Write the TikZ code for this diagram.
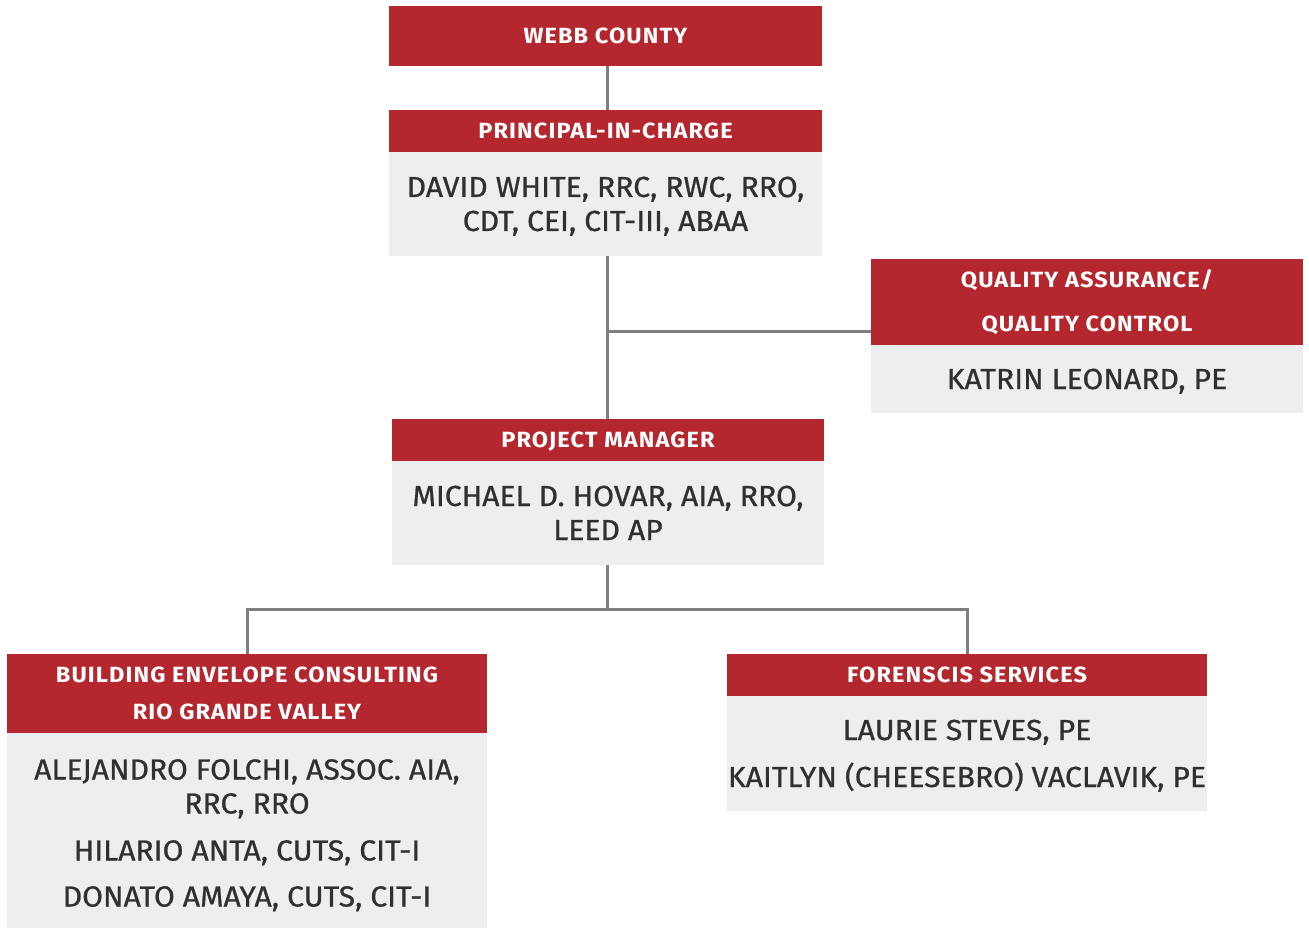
\documentclass[tikz,border=0pt]{standalone}
\usepackage{fontspec}
\setmainfont{Fira Sans}
\newfontfamily\headfont{Fira Sans}[FakeStretch=1.07,LetterSpace=5]
\newfontfamily\bodyfont{Fira Sans}[FakeStretch=1.04,FakeBold=0.8]
\definecolor{hdrred}{HTML}{B5272E}
\definecolor{bdygray}{HTML}{EDEEF0}
\definecolor{txtdark}{HTML}{2E3032}
\definecolor{lnGray}{HTML}{7F7F7F}
% struts that make the node centre fall on the middle of the capitals
\newcommand\btop{\rule{0pt}{28pt}}
\newcommand\bbot{\rule[-8pt]{0pt}{8pt}}
\newcommand\htop{\rule{0pt}{23.2pt}}
\newcommand\hbot{\rule[-8pt]{0pt}{8pt}}
\tikzset{
  hdrbox/.style={rectangle, fill=hdrred, inner sep=0pt, text=white, align=center,
    font=\headfont\bfseries\fontsize{22}{44}\selectfont},
  bdybox/.style={rectangle, fill=bdygray, inner sep=0pt, text=txtdark, align=center,
    font=\bodyfont\fontsize{29}{34}\selectfont},
  conn/.style={draw=lnGray, line width=3pt}
}
\begin{document}
\begin{tikzpicture}[x=1pt,y=-1pt]
\useasboundingbox (0,0) rectangle (1309,928);
% boxes
\node[hdrbox, minimum width=433pt, minimum height=60pt] (webb) at (605.5,36) {\htop WEBB COUNTY\hbot};
\node[hdrbox, minimum width=433pt, minimum height=42pt] (pich) at (605.5,131) {\htop PRINCIPAL-IN-CHARGE\hbot};
\node[bdybox, minimum width=433pt, minimum height=104pt] (pibd) at (605.5,204) {\btop DAVID WHITE, RRC, RWC, RRO,\\CDT, CEI, CIT-III, ABAA\bbot};
\node[hdrbox, minimum width=432pt, minimum height=86pt] (qah) at (1087,302) {\htop QUALITY ASSURANCE/\\QUALITY CONTROL\hbot};
\node[bdybox, minimum width=432pt, minimum height=68pt] (qab) at (1087,379) {\btop KATRIN LEONARD, PE\bbot};
\node[hdrbox, minimum width=432pt, minimum height=42pt] (pmh) at (608,440) {\htop PROJECT MANAGER\hbot};
\node[bdybox, minimum width=432pt, minimum height=104pt] (pmb) at (608,513) {\btop MICHAEL D. HOVAR, AIA, RRO,\\LEED AP\bbot};
\node[hdrbox, minimum width=480pt, minimum height=79pt, font=\headfont\bfseries\fontsize{22}{37}\selectfont] (beh) at (247,693.5) {\htop BUILDING ENVELOPE CONSULTING\\RIO GRANDE VALLEY\hbot};
\node[bdybox, minimum width=480pt, minimum height=195pt] (beb) at (247,830.5) {\rule{0pt}{33pt}ALEJANDRO FOLCHI, ASSOC. AIA,\\RRC, RRO\\[13pt]HILARIO ANTA, CUTS, CIT-I\\[12pt]DONATO AMAYA, CUTS, CIT-I\bbot};
\node[hdrbox, minimum width=480pt, minimum height=42pt] (foh) at (967,675) {\htop FORENSCIS SERVICES\hbot};
\node[bdybox, minimum width=480pt, minimum height=115pt] (fob) at (967,753.5) {\btop LAURIE STEVES, PE\\[13pt]KAITLYN (CHEESEBRO) VACLAVIK, PE\bbot};
% connectors
\coordinate (qaj) at (607,331);
\coordinate (fork) at (607,609);
\draw[conn] (webb.south -| qaj) -- (pich.north -| qaj);
\draw[conn] (pibd.south -| qaj) -- (pmh.north -| qaj);
\draw[conn] (qaj) -- (qaj -| qah.west);
\draw[conn] (pmb.south -| fork) -- (fork);
\draw[conn] (beh.north) |- (fork) -| (foh.north);
\end{tikzpicture}
\end{document}
